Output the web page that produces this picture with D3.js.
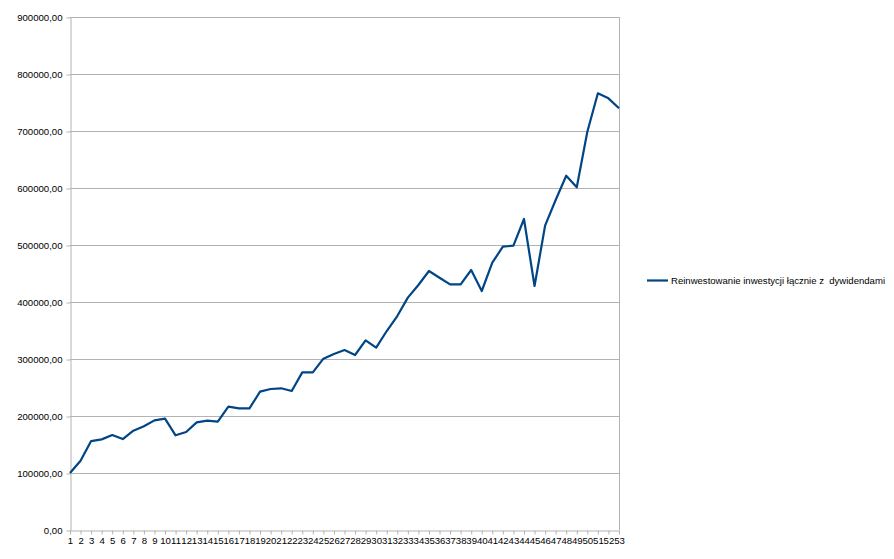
<!DOCTYPE html>
<meta charset="utf-8">

<style>
    body { margin: 0; background: #fff; }
    text { font-family: "Liberation Sans", Arial, sans-serif; font-size: 9.6px; fill: #000; }
</style>

<script src="https://d3js.org/d3.v7.min.js"></script>

<div id="my_dataviz"></div>

<script>
    // data
    var periods = d3.range(1, 54);
    var values = [
        100000, 121600, 156000, 159000, 166700, 159600, 174200, 181900, 192400, 195300,
        166100, 171900, 188900, 191800, 190000, 216400, 213500, 213500, 242700, 247400,
        248600, 243900, 276600, 276600, 300600, 308800, 315800, 307000, 332700, 319900,
        349100, 375400, 407600, 429800, 454400, 442500, 431000, 431000, 456100, 419300,
        469000, 497100, 498800, 545600, 428100, 533900, 578900, 621600, 601200, 698800,
        766100, 757300, 739800
    ];
    var yTicks = [0, 100000, 200000, 300000, 400000, 500000, 600000, 700000, 800000, 900000];
    var seriesName = "Reinwestowanie inwestycji łącznie z  dywidendami";

    var width = 894, height = 559;
    var plot = { left: 70, right: 619, top: 17, bottom: 530 };

    var svg = d3.select("#my_dataviz")
        .append("svg")
        .attr("width", width)
        .attr("height", height);

    var x = d3.scalePoint()
        .domain(periods)
        .range([plot.left, plot.right]);

    var y = d3.scaleLinear()
        .domain([0, 900000])
        .range([plot.bottom, plot.top]);

    var fmt = function(d) { return d3.format(".2f")(d).replace(".", ","); };

    // gridlines
    svg.append("g")
        .selectAll("line")
        .data(yTicks.slice(1))
        .enter()
        .append("line")
        .attr("x1", plot.left)
        .attr("x2", plot.right)
        .attr("y1", function(d) { return y(d) + 0.5; })
        .attr("y2", function(d) { return y(d) + 0.5; })
        .attr("stroke", "#b3b3b3")
        .attr("stroke-width", 1);

    // right border
    svg.append("line")
        .attr("x1", plot.right + 0.5).attr("x2", plot.right + 0.5)
        .attr("y1", plot.top).attr("y2", plot.bottom)
        .attr("stroke", "#b3b3b3");

    // Y axis
    var yAxis = svg.append("g")
        .attr("transform", "translate(" + (plot.left + 0.5) + ",0.5)")
        .call(d3.axisLeft(y).tickValues(yTicks).tickFormat(fmt).tickSizeInner(4).tickSizeOuter(0).tickPadding(4));
    yAxis.select(".domain").attr("stroke", "#b3b3b3");
    yAxis.selectAll(".tick line").attr("stroke", "#b3b3b3");
    yAxis.selectAll("text").attr("fill", "#000").style("font-size", "9.6px").attr("font-family", null);

    // X axis
    var xAxis = svg.append("g")
        .attr("transform", "translate(0," + (plot.bottom + 0.5) + ")")
        .call(d3.axisBottom(x).tickSizeInner(4).tickSizeOuter(0).tickPadding(3));
    xAxis.select(".domain").attr("stroke", "#b3b3b3");
    xAxis.selectAll(".tick line").attr("stroke", "#b3b3b3");
    xAxis.selectAll("text").attr("fill", "#000").style("font-size", "9.6px").attr("font-family", null);

    // series line
    var line = d3.line()
        .x(function(d, i) { return x(periods[i]); })
        .y(function(d) { return y(d); });

    svg.append("path")
        .datum(values)
        .attr("fill", "none")
        .attr("stroke", "#004586")
        .attr("stroke-width", 2.2)
        .attr("stroke-linejoin", "round")
        .attr("d", line);

    // legend
    var legend = svg.append("g").attr("transform", "translate(647,280)");
    legend.append("line")
        .attr("x1", 0).attr("x2", 21)
        .attr("y1", 0.5).attr("y2", 0.5)
        .attr("stroke", "#004586")
        .attr("stroke-width", 2.2);
    legend.append("text")
        .attr("x", 24)
        .attr("y", 4)
        .attr("textLength", 214)
        .attr("lengthAdjust", "spacingAndGlyphs")
        .attr("xml:space", "preserve")
        .style("white-space", "pre")
        .text(seriesName);
</script>
